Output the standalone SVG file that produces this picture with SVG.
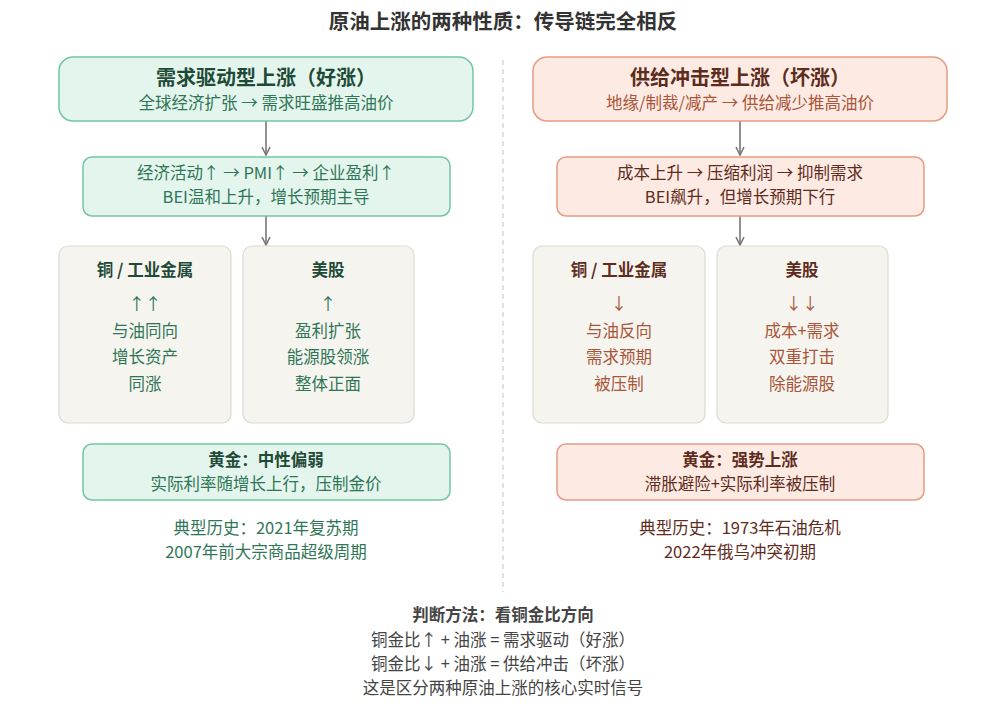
<svg xmlns="http://www.w3.org/2000/svg" width="1007" height="716" viewBox="0 0 1007 716">
<defs>
<marker id="ah" viewBox="0 0 10 10" refX="9" refY="5" markerWidth="10" markerHeight="10" markerUnits="userSpaceOnUse" orient="auto">
<path d="M1,1 L9,5 L1,9" fill="none" stroke="#777" stroke-width="1.6"/>
</marker>
<style>
text{font-family:"Noto Sans CJK SC","Noto Sans",sans-serif;text-anchor:middle}
.t{font-size:20.5px;font-weight:bold;fill:#333}
.gb{fill:#e4f5ed;stroke:#74c6a2;stroke-width:1.5}
.rb{fill:#fdeae3;stroke:#e69c82;stroke-width:1.5}
.nb{fill:#f5f4ef;stroke:#dcdad2;stroke-width:1.2}
.h{font-size:20px;font-weight:bold}
.s{font-size:16.5px}
.b{font-size:16.5px;font-weight:bold}
.gh{fill:#1f4a37}.gs{fill:#2f7656}
.rh{fill:#5e2c1c}.rs{fill:#a9553a}
.ln{stroke:#777;stroke-width:1.6;fill:none}
.bt{fill:#444}
</style>
</defs>
<rect width="1007" height="716" fill="#fff"/>
<text class="t" x="503" y="29">原油上涨的两种性质：传导链完全相反</text>
<line x1="503" y1="60" x2="503" y2="592" stroke="#ccc" stroke-width="1.2" stroke-dasharray="5,4"/>
<g id="connectors">
<line class="ln" x1="266" y1="121" x2="266" y2="155" marker-end="url(#ah)"/>
<line class="ln" x1="266" y1="216" x2="266" y2="245" marker-end="url(#ah)"/>
<line class="ln" x1="740" y1="121" x2="740" y2="155" marker-end="url(#ah)"/>
<line class="ln" x1="740" y1="216" x2="740" y2="245" marker-end="url(#ah)"/>
</g>
<g id="demand-top">
<rect class="gb" x="59" y="57" width="414" height="64" rx="14"/>
<text class="h gh" x="266" y="85">需求驱动型上涨（好涨）</text>
<text class="s gs" x="266" y="109">全球经济扩张 → 需求旺盛推高油价</text>
</g>
<g id="demand-chain">
<rect class="gb" x="83" y="157" width="367" height="59" rx="9"/>
<text class="s gs" x="266" y="179">经济活动↑ → PMI↑ → 企业盈利↑</text>
<text class="s gs" x="266" y="203">BEI温和上升，增长预期主导</text>
</g>
<g id="demand-copper">
<rect class="nb" x="59" y="246" width="172" height="177" rx="9"/>
<text class="b gh" x="145" y="276">铜 / 工业金属</text>
<text class="s gs" x="145" y="310">↑↑</text>
<text class="s gs" x="145" y="337">与油同向</text>
<text class="s gs" x="145" y="363">增长资产</text>
<text class="s gs" x="145" y="390">同涨</text>
</g>
<g id="demand-stocks">
<rect class="nb" x="243" y="246" width="171" height="177" rx="9"/>
<text class="b gh" x="328" y="276">美股</text>
<text class="s gs" x="328" y="310">↑</text>
<text class="s gs" x="328" y="337">盈利扩张</text>
<text class="s gs" x="328" y="363">能源股领涨</text>
<text class="s gs" x="328" y="390">整体正面</text>
</g>
<g id="demand-gold">
<rect class="gb" x="83" y="444" width="367" height="56" rx="9"/>
<text class="b gh" x="266" y="466">黄金：中性偏弱</text>
<text class="s gs" x="266" y="490">实际利率随增长上行，压制金价</text>
</g>
<g id="demand-history">
<text class="s gs" x="266" y="534">典型历史：2021年复苏期</text>
<text class="s gs" x="266" y="558">2007年前大宗商品超级周期</text>
</g>
<g id="supply-top">
<rect class="rb" x="533" y="57" width="414" height="64" rx="14"/>
<text class="h rh" x="740" y="85">供给冲击型上涨（坏涨）</text>
<text class="s rs" x="740" y="109">地缘/制裁/减产 → 供给减少推高油价</text>
</g>
<g id="supply-chain">
<rect class="rb" x="557" y="157" width="367" height="59" rx="9"/>
<text class="s rh" x="740" y="179">成本上升 → 压缩利润 → 抑制需求</text>
<text class="s rh" x="740" y="203">BEI飙升，但增长预期下行</text>
</g>
<g id="supply-copper">
<rect class="nb" x="533" y="246" width="172" height="177" rx="9"/>
<text class="b rh" x="619" y="276">铜 / 工业金属</text>
<text class="s rs" x="619" y="310">↓</text>
<text class="s rs" x="619" y="337">与油反向</text>
<text class="s rs" x="619" y="363">需求预期</text>
<text class="s rs" x="619" y="390">被压制</text>
</g>
<g id="supply-stocks">
<rect class="nb" x="717" y="246" width="171" height="177" rx="9"/>
<text class="b rh" x="802" y="276">美股</text>
<text class="s rs" x="802" y="310">↓↓</text>
<text class="s rs" x="802" y="337">成本+需求</text>
<text class="s rs" x="802" y="363">双重打击</text>
<text class="s rs" x="802" y="390">除能源股</text>
</g>
<g id="supply-gold">
<rect class="rb" x="557" y="444" width="367" height="56" rx="9"/>
<text class="b rh" x="740" y="466">黄金：强势上涨</text>
<text class="s rh" x="740" y="490">滞胀避险+实际利率被压制</text>
</g>
<g id="supply-history">
<text class="s rh" x="740" y="534">典型历史：1973年石油危机</text>
<text class="s rh" x="740" y="558">2022年俄乌冲突初期</text>
</g>
<g id="method">
<text class="b bt" x="503" y="621">判断方法：看铜金比方向</text>
<text class="s bt" x="503" y="646">铜金比↑ + 油涨 = 需求驱动（好涨）</text>
<text class="s bt" x="503" y="670">铜金比↓ + 油涨 = 供给冲击（坏涨）</text>
<text class="s bt" x="503" y="694">这是区分两种原油上涨的核心实时信号</text>
</g>
</svg>
